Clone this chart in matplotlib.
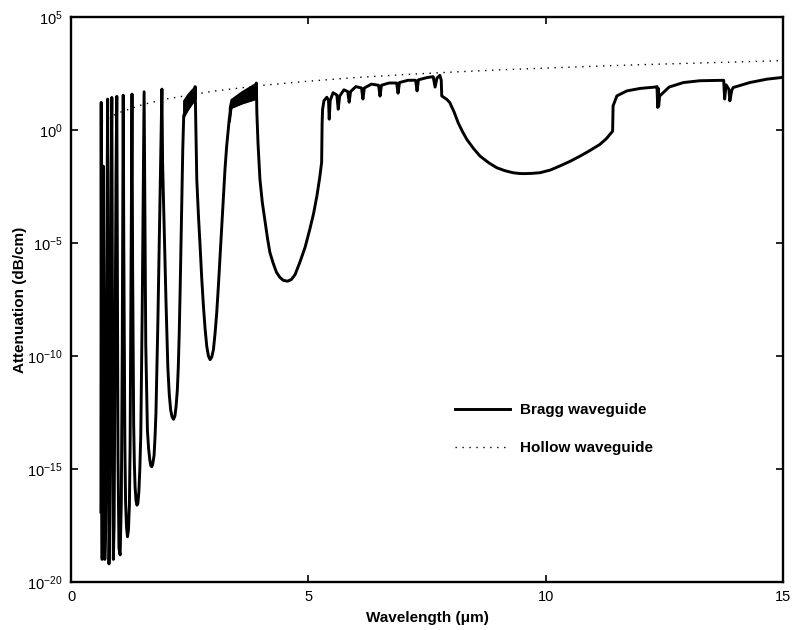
import numpy as np
import matplotlib.pyplot as plt
from matplotlib.ticker import NullLocator, LogFormatterSciNotation

plt.rcParams['font.family'] = ['Liberation Sans', 'DejaVu Sans']

# Bragg waveguide: wavelength (um) and log10 of attenuation (dB/cm)
bragg_x = [
    # short-wavelength band gaps
    0.630, 0.633, 0.636, 0.640, 0.648, 0.656, 0.664, 0.674, 0.682, 0.690,
    0.700, 0.712, 0.728, 0.745, 0.760, 0.772, 0.778, 0.788, 0.800, 0.814,
    0.830, 0.846, 0.860, 0.868, 0.878, 0.892, 0.908, 0.928, 0.948, 0.965,
    0.975, 0.990, 1.010, 1.035, 1.060, 1.080, 1.093, 1.100, 1.112, 1.135,
    1.150, 1.170, 1.190, 1.210, 1.230, 1.245, 1.265, 1.285, 1.298, 1.320,
    1.335, 1.350, 1.370, 1.390, 1.410, 1.430, 1.450, 1.470, 1.500, 1.525,
    1.540, 1.555, 1.575, 1.610, 1.635, 1.660, 1.680, 1.700, 1.720, 1.750,
    1.770, 1.790, 1.830, 1.870, 1.900, 1.915, 1.930, 1.965, 2.000, 2.040,
    2.070, 2.100, 2.130, 2.160, 2.190, 2.215, 2.240, 2.260, 2.280, 2.300,
    2.330, 2.355, 2.370,
    # first lossy band and the gap at 2.9 um
    2.375, 2.450, 2.530, 2.605, 2.615, 2.625, 2.650, 2.685, 2.720, 2.755,
    2.790, 2.825, 2.860, 2.895, 2.930, 2.965, 3.000, 3.035, 3.070, 3.105,
    3.140, 3.175, 3.210, 3.245, 3.280, 3.320, 3.335,
    # second lossy band and the gap at 4.5 um
    3.370, 3.600, 3.895, 3.905, 3.915, 3.940, 3.980, 4.030, 4.090, 4.140,
    4.190, 4.260, 4.330, 4.400, 4.470, 4.560, 4.640, 4.720, 4.820, 4.930,
    5.030, 5.110, 5.180, 5.240, 5.280, 5.290, 5.300,
    # scalloped lossy band
    5.33, 5.39, 5.425, 5.44, 5.46, 5.52, 5.60, 5.63, 5.66, 5.75,
    5.83, 5.86, 5.89, 6.00, 6.12, 6.15, 6.18, 6.33, 6.48, 6.51,
    6.54, 6.70, 6.86, 6.89, 6.92, 7.10, 7.26, 7.29, 7.32, 7.50,
    7.63, 7.67, 7.71, 7.77, 7.80, 7.81,
    # fundamental gap at 9.6 um
    7.85, 7.92, 7.98, 8.07, 8.16, 8.25, 8.34, 8.48, 8.62, 8.80,
    8.97, 9.14, 9.31, 9.45, 9.56, 9.70, 9.88, 10.10, 10.30, 10.51,
    10.72, 10.93, 11.14, 11.28, 11.41,
    # long-wavelength tail
    11.42, 11.50, 11.71, 11.99, 12.30, 12.345, 12.36, 12.37, 12.38, 12.40,
    12.48, 12.60, 12.90, 13.25, 13.75, 13.77, 13.80, 13.86, 13.88, 13.92,
    13.95, 14.30, 14.66, 15.00,
]
bragg_log = [
    -16.9, -4.0, 1.22, -6.0, -16.5, -19.0, -15.0, -6.0, -1.6, -7.0,
    -16.5, -19.0, -18.0, -11.0, -3.0, 1.37, -3.0, -14.0, -19.2, -17.5,
    -10.0, -2.0, 1.44, -4.0, -14.0, -19.0, -17.5, -10.0, -2.0, 1.49,
    -5.0, -14.5, -18.5, -18.8, -16.5, -9.5, -2.0, 1.54, -5.0, -14.0,
    -16.5, -17.6, -18.0, -17.7, -16.6, -14.0, -6.0, 1.59, -6.0, -13.0,
    -14.8, -15.8, -16.4, -16.6, -16.5, -16.0, -15.0, -13.5, -8.0, -2.0,
    1.69, -3.0, -9.5, -13.3, -14.1, -14.6, -14.85, -14.9, -14.8, -14.4,
    -13.6, -12.5, -8.5, -3.5, 0.0, 1.81, -1.5, -4.5, -7.5, -10.5,
    -11.7, -12.4, -12.7, -12.8, -12.65, -12.2, -11.5, -10.5, -9.0, -7.0,
    -3.5, -0.8, 0.3,
    0.65, 0.9, 1.15, 1.37, 1.92, 0.8, -2.2, -3.8, -5.15, -6.6,
    -7.8, -8.8, -9.57, -10.0, -10.16, -10.05, -9.72, -9.0, -8.08, -6.9,
    -5.58, -4.25, -2.92, -1.7, -0.70, 0.2, 0.5,
    1.0, 1.2, 1.4, 2.08, 0.79, -0.6, -2.18, -3.2, -4.09, -4.8,
    -5.42, -5.9, -6.30, -6.52, -6.65, -6.69, -6.62, -6.40, -5.86, -5.2,
    -4.40, -3.7, -2.92, -2.1, -1.43, 0.3, 0.92,
    1.3, 1.45, 1.3, 0.48, 1.3, 1.65, 1.55, 0.92, 1.5, 1.78,
    1.7, 1.23, 1.7, 1.92, 1.86, 1.37, 1.86, 2.03, 1.98, 1.50,
    1.98, 2.08, 2.08, 1.63, 2.10, 2.20, 2.20, 1.73, 2.22, 2.32,
    2.36, 1.9, 2.3, 2.42, 2.2, 1.51,
    1.45, 1.35, 1.21, 0.8, 0.30, -0.08, -0.42, -0.82, -1.16, -1.45,
    -1.67, -1.80, -1.89, -1.925, -1.93, -1.92, -1.89, -1.77, -1.59, -1.39,
    -1.16, -0.91, -0.64, -0.38, -0.05,
    1.07, 1.51, 1.73, 1.84, 1.90, 1.92, 1.0, 1.85, 1.05, 1.5,
    1.66, 1.9, 2.10, 2.18, 2.20, 1.37, 2.0, 1.8, 1.29, 1.75,
    1.88, 2.10, 2.25, 2.33,
]

# densely oscillating lossy bands (lower / upper envelope, log10)
band1_x = [2.372, 2.45, 2.53, 2.612]
band1_lo = [0.6, 0.9, 1.15, 1.37]
band1_hi = [1.3, 1.55, 1.75, 1.92]
band2_x = [3.335, 3.37, 3.60, 3.90]
band2_lo = [0.4, 1.0, 1.2, 1.4]
band2_hi = [1.0, 1.35, 1.7, 2.08]

# hollow metal waveguide
hollow_x = [0.65, 1, 1.5, 2, 3, 4, 5, 6, 7, 8, 9, 10, 11, 12, 13, 14, 15]
hollow_log = [0.37, 0.76, 1.12, 1.37, 1.72, 1.97, 2.16, 2.32, 2.45, 2.56,
              2.66, 2.74, 2.82, 2.89, 2.95, 3.01, 3.07]

fig = plt.figure(figsize=(7.96, 6.3), dpi=100)
ax = fig.add_axes([0.0892, 0.0762, 0.8945, 0.8968])

ax.fill_between(band1_x, 10.0 ** np.array(band1_lo), 10.0 ** np.array(band1_hi),
                color='black', lw=1.5)
ax.fill_between(band2_x, 10.0 ** np.array(band2_lo), 10.0 ** np.array(band2_hi),
                color='black', lw=1.5)
ax.plot(bragg_x, 10.0 ** np.array(bragg_log), color='black', lw=2.1,
        solid_joinstyle='round', label='Bragg waveguide')
ax.plot(hollow_x, 10.0 ** np.array(hollow_log), color='black', lw=1.0,
        linestyle=(0, (1, 4)), label='Hollow waveguide')

ax.set_yscale('log')
ax.set_xlim(0, 15)
ax.set_ylim(1e-20, 1e5)
ax.set_xticks([0, 5, 10, 15])
ax.set_yticks([1e-20, 1e-15, 1e-10, 1e-5, 1e0, 1e5])
ax.yaxis.set_major_formatter(LogFormatterSciNotation())
ax.yaxis.set_minor_locator(NullLocator())
ax.tick_params(direction='in', length=5, width=1.2, labelsize=10.5,
               top=True, right=True, pad=6)
for s in ax.spines.values():
    s.set_linewidth(1.7)

ax.set_xlabel('Wavelength (\u03bcm)', fontsize=11, fontweight='bold', labelpad=5)
ax.set_ylabel('Attenuation (dB/cm)', fontsize=11, fontweight='bold', labelpad=0)

leg = ax.legend(loc='upper left', bbox_to_anchor=(0.539, 0.317), frameon=False,
                borderpad=0, borderaxespad=0, handlelength=3.6,
                handletextpad=0.7, labelspacing=1.6,
                prop={'weight': 'bold', 'size': 11})

fig.savefig('out.png', dpi=100)
